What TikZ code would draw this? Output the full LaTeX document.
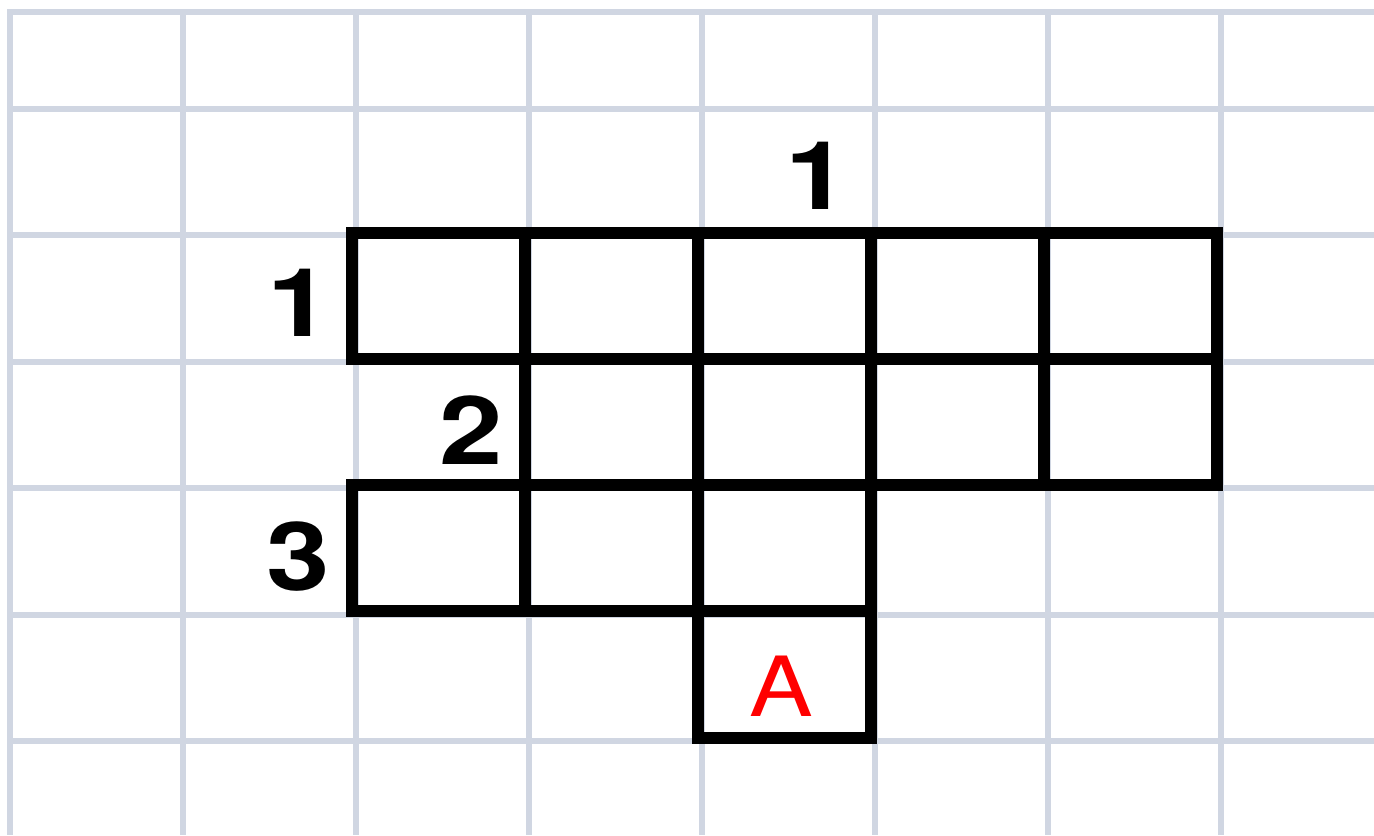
\documentclass[tikz,border=0pt]{standalone}
\usepackage{fontspec}
\setmainfont{Liberation Sans}
\newfontfamily\cluefont[FakeStretch=1.2]{TeX Gyre Heros}
\newfontfamily\targetfont[FakeStretch=1.15]{TeX Gyre Heros}
\definecolor{gridblue}{RGB}{208,214,226}

\begin{document}
\begin{tikzpicture}[
  x=0.5pt,
  y=-0.5pt,
  gridline/.style={draw=gridblue,line width=3pt},
  cellbox/.style={draw=black,line width=6pt},
  clue/.style={
    inner sep=0pt,
    font=\cluefont\fontsize{47.5}{50}\selectfont\bfseries
  },
  target/.style={
    inner sep=0pt,
    text=red,
    font=\targetfont\fontsize{41.5}{44}\selectfont
  }
]
  \useasboundingbox (0,0) rectangle (1374,835);
  \fill[white] (0,0) rectangle (1374,835);

  % background grid
  \foreach \gx in {10,183,...,1221}
    \draw[gridline] (\gx,9) -- (\gx,835);
  \foreach \gy in {12,108.5,235,361.5,488,614.5,741}
    \draw[gridline] (7,\gy) -- (1374,\gy);

  % the figure cells
  \foreach \c/\r in {0/0,1/0,2/0,3/0,4/0,1/1,2/1,3/1,4/1,0/2,1/2,2/2,2/3}
    \draw[cellbox] ({352+173*\c},{232.5+126.3*\r}) rectangle +(173,126.3);

  \node[clue] (colone) at (817,176) {1};
  \node[clue] (rowone) at (299,303) {1};
  \node[clue] (rowtwo) at (471,430) {2};
  \node[clue] (rowthree) at (298,557) {3};
  \node[target] (cellA) at (781,686) {A};
\end{tikzpicture}
\end{document}
